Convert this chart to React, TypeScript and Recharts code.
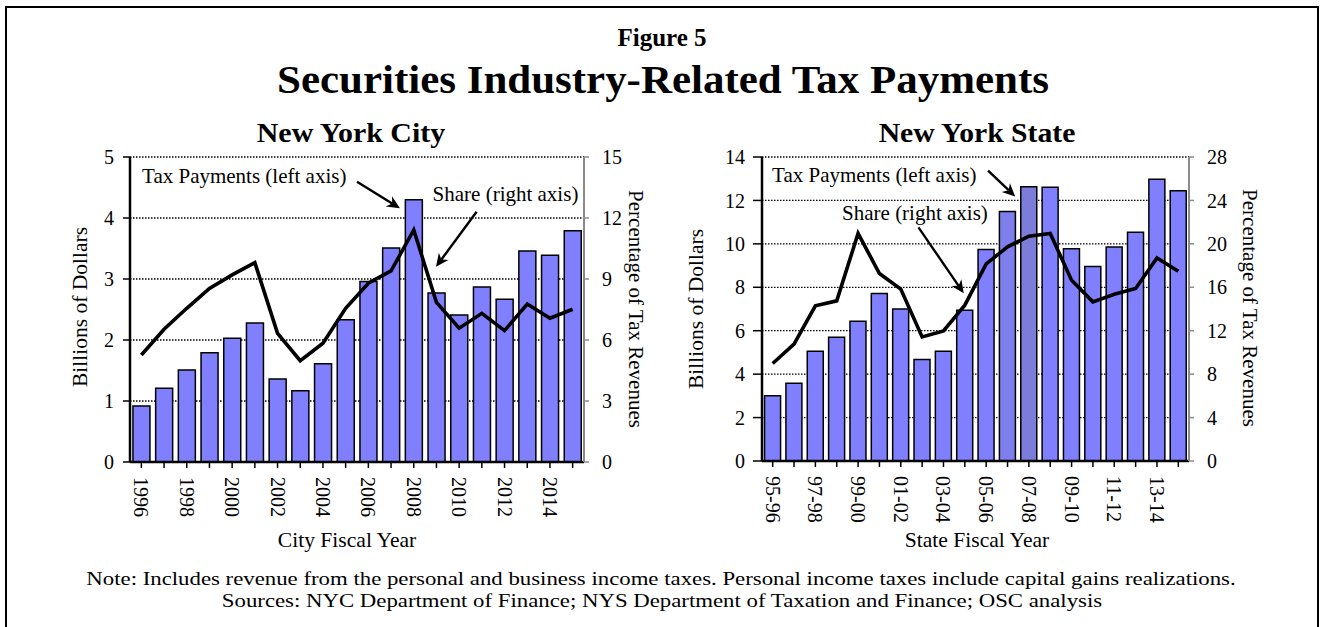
import React from 'react';
import {
  ComposedChart,
  Bar,
  Line,
  XAxis,
  YAxis,
  CartesianGrid,
  ReferenceLine,
  ReferenceDot,
  Cell,
} from 'recharts';

// ---------------- DATA ----------------
const cityYears = [
  '1996', '1997', '1998', '1999', '2000', '2001', '2002', '2003', '2004', '2005',
  '2006', '2007', '2008', '2009', '2010', '2011', '2012', '2013', '2014', '2015',
];
const cityTaxPayments = [
  0.92, 1.21, 1.51, 1.79, 2.03, 2.28, 1.36, 1.17, 1.61, 2.33,
  2.96, 3.51, 4.3, 2.77, 2.41, 2.87, 2.67, 3.46, 3.39, 3.79,
];
const cityShare = [
  5.26, 6.53, 7.56, 8.54, 9.2, 9.8, 6.33, 4.98, 5.84, 7.56,
  8.79, 9.4, 11.41, 7.85, 6.58, 7.31, 6.46, 7.77, 7.07, 7.51,
];
const cityLeftTicks = [0, 1, 2, 3, 4, 5];
const cityRightTicks = [0, 3, 6, 9, 12, 15];

const stateYears = [
  '95-96', '96-97', '97-98', '98-99', '99-00', '00-01', '01-02', '02-03', '03-04', '04-05',
  '05-06', '06-07', '07-08', '08-09', '09-10', '10-11', '11-12', '12-13', '13-14', '14-15',
];
const stateTaxPayments = [
  3.01, 3.58, 5.06, 5.7, 6.44, 7.71, 7.0, 4.67, 5.06, 6.94,
  9.74, 11.49, 12.63, 12.61, 9.77, 8.96, 9.85, 10.54, 12.98, 12.44,
];
const stateShare = [
  8.98, 10.76, 14.29, 14.75, 20.96, 17.27, 15.83, 11.43, 11.98, 14.35,
  18.15, 19.72, 20.71, 20.96, 16.65, 14.66, 15.36, 15.89, 18.71, 17.48,
];
const stateLeftTicks = [0, 2, 4, 6, 8, 10, 12, 14];
const stateRightTicks = [0, 4, 8, 12, 16, 20, 24, 28];

const taxLabel = 'Tax Payments (left axis)';
const shareLabel = 'Share (right axis)';

// annotation anchors in data units (x: position 0..20 across the categories, y: left axis value)
const cityAnnot = {
  tax: { x: 0.53, y: 4.566 },
  taxArrow: [{ x: 10.0, y: 4.595 }, { x: 11.89, y: 4.159 }],
  share: { x: 13.33, y: 4.279 },
  shareArrow: [{ x: 15.27, y: 4.103 }, { x: 13.48, y: 3.2 }],
};
const stateAnnot = {
  tax: { x: 0.47, y: 12.86 },
  taxArrow: [{ x: 10.59, y: 13.37 }, { x: 11.86, y: 12.18 }],
  share: { x: 3.75, y: 11.1 },
  shareArrow: [{ x: 7.33, y: 10.76 }, { x: 9.45, y: 7.72 }],
};

const cityData = cityYears.map((year, i) => ({
  year,
  pos: i + 0.5,
  tax: cityTaxPayments[i],
  share: cityShare[i],
}));
const stateData = stateYears.map((year, i) => ({
  year,
  pos: i + 0.5,
  tax: stateTaxPayments[i],
  share: stateShare[i],
}));

// ---------------- STYLE ----------------
const FONT = "'Liberation Serif', 'Times New Roman', Times, serif";
const BAR_FILL = '#8080FF';

const Arrow = (p: any) => {
  const { x1, y1, x2, y2 } = p;
  const ang = Math.atan2(y2 - y1, x2 - x1);
  const L = 13;
  const W = 6;
  const bx = x2 - L * Math.cos(ang);
  const by = y2 - L * Math.sin(ang);
  const nx = -Math.sin(ang);
  const ny = Math.cos(ang);
  const mx = x2 - L * 0.7 * Math.cos(ang);
  const my = y2 - L * 0.7 * Math.sin(ang);
  return (
    <g>
      <line x1={x1} y1={y1} x2={mx} y2={my} stroke="#000" strokeWidth={2.4} />
      <polygon
        points={`${x2},${y2} ${bx + nx * W},${by + ny * W} ${mx},${my} ${bx - nx * W},${by - ny * W}`}
        fill="#000"
      />
    </g>
  );
};

const makeTextShape = (text: string) => (p: any) => (
  <text x={p.cx} y={p.cy} fontSize={21} fontFamily={FONT} fill="#000" textAnchor="start">
    {text}
  </text>
);

const makeXTick = (labels: string[]) => (props: any) => {
  const { x, y, payload } = props;
  const idx = labels.indexOf(payload.value);
  if (idx % 2 !== 0) return <g />;
  return (
    <text
      x={x}
      y={y}
      dx={7}
      dy="0.35em"
      transform={`rotate(90 ${x} ${y})`}
      textAnchor="start"
      fontSize={20}
      fontFamily={FONT}
      fill="#000"
    >
      {payload.value}
    </text>
  );
};

type PanelProps = {
  data: any[];
  labels: string[];
  leftDomain: [number, number];
  leftTicks: number[];
  rightDomain: [number, number];
  rightTicks: number[];
  margin: any;
  annot: any;
  barGap: string;
  leftTickSize: number;
  leftTickMargin: number;
  highlight?: Record<number, string>;
};

const Panel = (pp: PanelProps) => {
  const tickStyle = { fontSize: 20, fill: '#000', fontFamily: FONT };
  return (
    <ComposedChart
      width={661}
      height={627}
      data={pp.data}
      margin={pp.margin}
      barCategoryGap={pp.barGap}
      style={{ fontFamily: FONT }}
    >
      <CartesianGrid
        yAxisId="left"
        vertical={false}
        stroke="#000"
        strokeWidth={1.3}
        strokeDasharray="1.5 1.5"
      />
      <XAxis
        dataKey="year"
        interval={0}
        height={60}
        tickSize={6}
        tickMargin={2}
        axisLine={{ stroke: '#000', strokeWidth: 2.5 }}
        tickLine={{ stroke: '#000', strokeWidth: 1.5 }}
        tick={makeXTick(pp.labels)}
      />
      <XAxis
        xAxisId="n"
        dataKey="pos"
        type="number"
        domain={[0, 20]}
        allowDataOverflow
        padding={{ left: 0, right: 0 }}
        hide
      />
      <YAxis
        yAxisId="left"
        orientation="left"
        width={60}
        domain={pp.leftDomain}
        ticks={pp.leftTicks}
        interval={0}
        allowDataOverflow
        tickSize={pp.leftTickSize}
        tickMargin={pp.leftTickMargin}
        axisLine={{ stroke: '#000', strokeWidth: 2.5 }}
        tickLine={{ stroke: '#000', strokeWidth: 1.5 }}
        tick={tickStyle}
      />
      <YAxis
        yAxisId="right"
        orientation="right"
        width={60}
        domain={pp.rightDomain}
        ticks={pp.rightTicks}
        interval={0}
        allowDataOverflow
        tickSize={5}
        tickMargin={13}
        axisLine={{ stroke: '#8a8a8a', strokeWidth: 2 }}
        tickLine={{ stroke: '#8a8a8a', strokeWidth: 1.5 }}
        tick={tickStyle}
      />
      <Bar
        yAxisId="left"
        dataKey="tax"
        fill={BAR_FILL}
        stroke="#000"
        strokeWidth={1.5}
        isAnimationActive={false}
      >
        {pp.data.map((_, i) => (
          <Cell key={i} fill={(pp.highlight && pp.highlight[i]) || BAR_FILL} />
        ))}
      </Bar>
      <Line
        yAxisId="right"
        dataKey="share"
        type="linear"
        stroke="#000"
        strokeWidth={3.6}
        dot={false}
        activeDot={false}
        isAnimationActive={false}
      />
      <ReferenceDot
        xAxisId="n"
        yAxisId="left"
        x={pp.annot.tax.x}
        y={pp.annot.tax.y}
        r={0}
        ifOverflow="visible"
        shape={makeTextShape(taxLabel)}
      />
      <ReferenceDot
        xAxisId="n"
        yAxisId="left"
        x={pp.annot.share.x}
        y={pp.annot.share.y}
        r={0}
        ifOverflow="visible"
        shape={makeTextShape(shareLabel)}
      />
      <ReferenceLine
        xAxisId="n"
        yAxisId="left"
        segment={pp.annot.taxArrow}
        ifOverflow="visible"
        shape={Arrow}
      />
      <ReferenceLine
        xAxisId="n"
        yAxisId="left"
        segment={pp.annot.shareArrow}
        ifOverflow="visible"
        shape={Arrow}
      />
    </ComposedChart>
  );
};

const StretchText = (p: { x: number; y: number; sx: number; size: number; bold?: boolean; children: any }) => (
  <text
    transform={`translate(${p.x} ${p.y}) scale(${p.sx} 1)`}
    textAnchor="middle"
    fontSize={p.size}
    fontWeight={p.bold ? 'bold' : 'normal'}
    fill="#000"
  >
    {p.children}
  </text>
);

export default function App() {
  return (
    <div style={{ position: 'relative', width: 1322, height: 627, background: '#fff', overflow: 'hidden' }}>
      <style>{`body{margin:0;background:#fff}`}</style>
      <div style={{ position: 'absolute', left: 0, top: 0 }}>
        <Panel
          data={cityData}
          labels={cityYears}
          leftDomain={[0, 5]}
          leftTicks={cityLeftTicks}
          rightDomain={[0, 15]}
          rightTicks={cityRightTicks}
          margin={{ top: 157, left: 70, right: 17, bottom: 105 }}
          annot={cityAnnot}
          barGap="13%"
          leftTickSize={7}
          leftTickMargin={9}
        />
      </div>
      <div style={{ position: 'absolute', left: 661, top: 0 }}>
        <Panel
          data={stateData}
          labels={stateYears}
          leftDomain={[0, 14]}
          leftTicks={stateLeftTicks}
          rightDomain={[0, 28]}
          rightTicks={stateRightTicks}
          margin={{ top: 157, left: 41, right: 73, bottom: 106 }}
          annot={stateAnnot}
          barGap="12%"
          leftTickSize={9}
          leftTickMargin={8}
          highlight={{ 11: '#7E7EEC', 12: '#7C7CDA' }}
        />
      </div>
      <svg
        width={1322}
        height={627}
        style={{ position: 'absolute', left: 0, top: 0, pointerEvents: 'none' }}
        fontFamily={FONT}
      >
        <rect x={6} y={7} width={1312} height={640} fill="none" stroke="#000" strokeWidth={2} />
        <StretchText x={662} y={46} sx={1.0} size={25} bold>Figure 5</StretchText>
        <StretchText x={663} y={93} sx={1.074} size={40} bold>
          Securities Industry-Related Tax Payments
        </StretchText>
        <StretchText x={351} y={142} sx={1.07} size={28} bold>New York City</StretchText>
        <StretchText x={977} y={142} sx={1.06} size={28} bold>New York State</StretchText>

        <text transform="translate(87 307) rotate(-90)" textAnchor="middle" fontSize={21.5}>Billions of Dollars</text>
        <text transform="translate(629 309) rotate(90)" textAnchor="middle" fontSize={21}>Percentage of Tax Revenues</text>
        <text transform="translate(703 309) rotate(-90)" textAnchor="middle" fontSize={21.5}>Billions of Dollars</text>
        <text transform="translate(1243 308) rotate(90)" textAnchor="middle" fontSize={21}>Percentage of Tax Revenues</text>

        <StretchText x={347} y={547} sx={1.08} size={20}>City Fiscal Year</StretchText>
        <StretchText x={977} y={547} sx={1.08} size={20}>State Fiscal Year</StretchText>

        <StretchText x={661} y={585} sx={1.233} size={18.5}>
          Note: Includes revenue from the personal and business income taxes. Personal income taxes include capital gains realizations.
        </StretchText>
        <StretchText x={662} y={607} sx={1.233} size={18.5}>
          Sources: NYC Department of Finance; NYS Department of Taxation and Finance; OSC analysis
        </StretchText>
      </svg>
    </div>
  );
}
